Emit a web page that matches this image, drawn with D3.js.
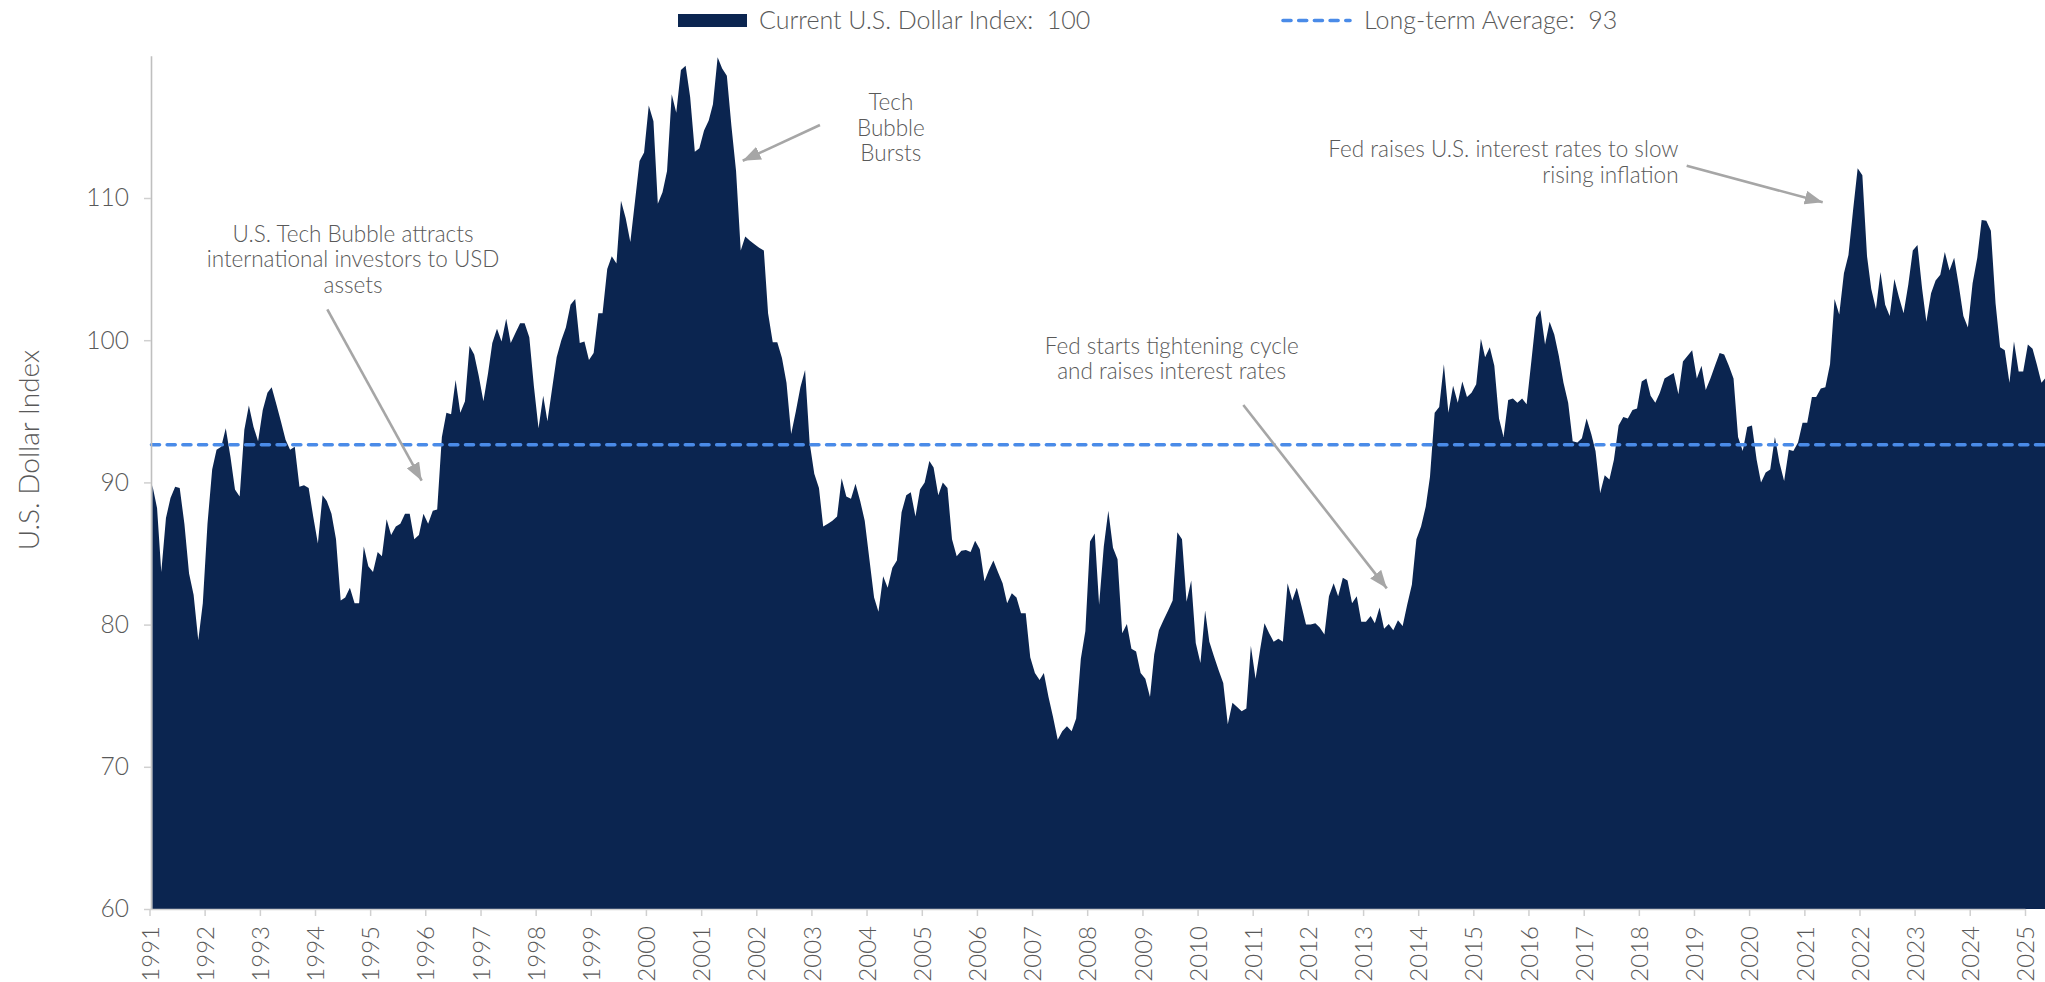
<!DOCTYPE html>
<html><head><meta charset="utf-8">
<script src="https://cdn.jsdelivr.net/npm/d3@7"></script>
<style>
html,body{margin:0;padding:0;background:#fff;}
svg{display:block;}
text{font-family:Lato,"Noto Sans",sans-serif;fill:#595959;font-weight:300;}
</style></head><body>
<svg id="chart" width="2045" height="982"></svg>
<script>
// ---------- DATA ----------
const startYear = 1991;           // first observation: January 1991, monthly
const usdIndex = [
  89.8, 88.2, 83.7, 87.5, 88.9, 89.7, 89.6, 87.1, 83.6, 82.1, 78.9, 81.5,      // 1991
  87.1, 90.9, 92.3, 92.5, 93.8, 91.8, 89.5, 89.0, 93.7, 95.4, 93.9, 92.9,      // 1992
  95.1, 96.3, 96.7, 95.5, 94.3, 93.0, 92.3, 92.5, 89.7, 89.8, 89.6, 87.6,      // 1993
  85.7, 89.1, 88.7, 87.8, 86.0, 81.7, 81.9, 82.6, 81.5, 81.5, 85.5, 84.1,      // 1994
  83.7, 85.1, 84.8, 87.4, 86.3, 86.9, 87.1, 87.8, 87.8, 86.0, 86.3, 87.8,      // 1995
  87.1, 88.0, 88.1, 93.2, 94.9, 94.8, 97.2, 94.9, 95.7, 99.6, 99.0, 97.5,      // 1996
  95.7, 97.7, 99.8, 100.8, 99.9, 101.5, 99.8, 100.5, 101.2, 101.2, 100.2, 96.8,// 1997
  93.8, 96.1, 94.3, 96.6, 98.8, 100.0, 100.9, 102.5, 102.9, 99.8, 99.9, 98.6,  // 1998
  99.1, 101.9, 101.9, 105.0, 105.9, 105.4, 109.8, 108.6, 106.9, 109.7, 112.6, 113.2, // 1999
  116.5, 115.4, 109.6, 110.4, 111.9, 117.3, 116.0, 119.0, 119.3, 117.1, 113.25, 113.5, // 2000
  114.75, 115.45, 116.6, 119.9, 119.1, 118.6, 115.1, 111.9, 106.3, 107.3, 107.0, 106.75, // 2001
  106.5, 106.3, 101.9, 99.85, 99.85, 98.75, 97.0, 93.4, 95.0, 96.7, 97.9, 92.8, // 2002
  90.6, 89.6, 86.9, 87.1, 87.3, 87.6, 90.3, 89.0, 88.85, 89.9, 88.7, 87.3,     // 2003
  84.6, 81.9, 80.9, 83.4, 82.6, 84.0, 84.5, 87.9, 89.1, 89.3, 87.6, 89.5,      // 2004
  90.0, 91.5, 91.05, 89.1, 90.0, 89.6, 86.0, 84.8, 85.2, 85.25, 85.1, 85.9,    // 2005
  85.3, 83.05, 83.8, 84.5, 83.7, 82.9, 81.5, 82.2, 81.9, 80.8, 80.8, 77.7,     // 2006
  76.6, 76.1, 76.6, 74.9, 73.5, 71.9, 72.5, 72.85, 72.5, 73.4, 77.6, 79.55,    // 2007
  85.85, 86.4, 81.4, 85.5, 88.0, 85.4, 84.6, 79.4, 80.05, 78.3, 78.1, 76.6,    // 2008
  76.2, 74.9, 77.9, 79.6, 80.3, 81.0, 81.7, 86.5, 86.0, 81.6, 83.1, 78.7,      // 2009
  77.3, 81.0, 78.8, 77.75, 76.8, 75.9, 73.0, 74.5, 74.2, 73.9, 74.1, 78.5,     // 2010
  76.2, 78.3, 80.1, 79.4, 78.8, 79.0, 78.8, 82.9, 81.7, 82.6, 81.3, 80.0,      // 2011
  80.0, 80.1, 79.8, 79.3, 82.0, 82.9, 82.0, 83.3, 83.1, 81.5, 82.0, 80.2,      // 2012
  80.2, 80.6, 80.1, 81.2, 79.7, 80.05, 79.6, 80.3, 79.9, 81.4, 82.8, 86.0,     // 2013
  86.9, 88.3, 90.4, 94.9, 95.3, 98.3, 94.9, 96.8, 95.6, 97.1, 96.0, 96.3,      // 2014
  96.9, 100.1, 98.8, 99.5, 98.2, 94.5, 93.2, 95.8, 95.9, 95.6, 95.9, 95.5,     // 2015
  98.5, 101.6, 102.1, 99.7, 101.3, 100.4, 98.9, 97.0, 95.6, 92.9, 92.8, 93.1,  // 2016
  94.5, 93.4, 92.2, 89.25, 90.5, 90.2, 91.6, 94.0, 94.6, 94.5, 95.1, 95.2,     // 2017
  97.1, 97.3, 96.1, 95.6, 96.3, 97.3, 97.5, 97.7, 96.2, 98.5, 98.9, 99.3,      // 2018
  97.3, 98.2, 96.5, 97.3, 98.2, 99.1, 99.0, 98.2, 97.3, 93.2, 92.2, 93.9,      // 2019
  94.0, 91.6, 90.0, 90.7, 90.9, 93.2, 91.4, 90.1, 92.3, 92.2, 92.8, 94.2,      // 2020
  94.2, 96.0, 96.0, 96.6, 96.7, 98.3, 102.9, 101.8, 104.7, 106.0, 109.2, 112.1,// 2021
  111.6, 105.9, 103.6, 102.2, 104.8, 102.5, 101.7, 104.3, 103.0, 101.9, 103.9, 106.3, // 2022
  106.7, 103.6, 101.3, 103.3, 104.2, 104.6, 106.2, 104.9, 105.8, 103.9, 101.7, 100.9, // 2023
  104.0, 105.8, 108.45, 108.4, 107.7, 102.6, 99.5, 99.3, 97.0, 99.9, 97.8, 97.8, // 2024
  99.7, 99.4, 98.3, 97.0, 97.4                                                  // 2025
];
const longTermAverage = 92.65;
const currentValue = 100;
const yTicks = [60, 70, 80, 90, 100, 110];
const xTickYears = d3.range(1991, 2026);
const legendLabels = ["Current U.S. Dollar Index:  " + currentValue, "Long-term Average:  93"];
const yAxisTitle = "U.S. Dollar Index";
const annotations = [
  {lines: ["U.S. Tech Bubble attracts", "international investors to USD", "assets"], at: [1994.69, 106.91], anchor: "middle", from: [1994.223, 102.17], to: [1995.935, 90.12]},
  {lines: ["Tech", "Bubble", "Bursts"], at: [2004.44, 116.17], anchor: "middle", from: [2003.155, 115.13], to: [2001.754, 112.62]},
  {lines: ["Fed starts tightening cycle", "and raises interest rates"], at: [2009.53, 99.03], anchor: "middle", from: [2010.83, 95.44], to: [2013.43, 82.55]},
  {lines: ["Fed raises U.S. interest rates to slow", "rising inflation"], at: [2018.72, 112.86], anchor: "end", from: [2018.868, 112.27], to: [2021.333, 109.70]}
];

// ---------- CHART ----------
const svg = d3.select("#chart");
const navy = "#0b2550", avgBlue = "#4a8be8", axisGray = "#bfbfbf", arrowGray = "#a6a6a6";

const data = usdIndex.map((v, i) => ({date: new Date(startYear, i, 20), value: v}));
const yearDate = f => { const y0 = Math.floor(f); const a = new Date(y0, 0, 1), b = new Date(y0 + 1, 0, 1); return new Date(+a + (f - y0) * (b - a)); };

const x = d3.scaleTime().domain([new Date(1991, 0, 1), new Date(2025, 0, 1)]).range([149.5, 2025]);
const y = d3.scaleLinear().domain([60, 120]).range([909, 55.8]);

// area
svg.append("path")
  .datum(data)
  .attr("fill", navy)
  .attr("d", d3.area().x(d => x(d.date)).y0(y(60)).y1(d => y(d.value)));

// long-term average
svg.append("line")
  .attr("x1", x(new Date(1991, 0, 1)) + 2).attr("x2", 2045)
  .attr("y1", y(longTermAverage)).attr("y2", y(longTermAverage))
  .attr("stroke", avgBlue).attr("stroke-width", 3.6)
  .attr("stroke-dasharray", "8 7.7").attr("stroke-linecap", "round");

// y axis
const yAxis = svg.append("g").attr("transform", "translate(151,0)")
  .call(d3.axisLeft(y).tickValues(yTicks).tickSize(7).tickSizeOuter(0).tickPadding(15));
yAxis.select(".domain").attr("stroke", axisGray).attr("stroke-width", 1.6);
yAxis.selectAll(".tick line").attr("stroke", "#d0d0d0").attr("stroke-width", 1.5);
yAxis.selectAll(".tick text").attr("font-size", 24.5).attr("fill", "#595959").style("font-family", "Lato").style("font-weight", 300);

// x axis
const xAxis = svg.append("g").attr("transform", `translate(0,${y(60)})`)
  .call(d3.axisBottom(x).tickValues(xTickYears.map(yr => new Date(yr, 0, 1))).tickFormat(d3.timeFormat("%Y")).tickSize(7).tickSizeOuter(0));
xAxis.select(".domain").attr("stroke", "#d0d0d0").attr("stroke-width", 1.5);
xAxis.selectAll(".tick line").attr("stroke", "#d0d0d0").attr("stroke-width", 1.5);
xAxis.selectAll(".tick text")
  .attr("font-size", 24).attr("fill", "#595959").style("font-family", "Lato").style("font-weight", 300)
  .attr("text-anchor", "end").attr("transform", "rotate(-90)")
  .attr("x", -17).attr("y", 0).attr("dy", "0.36em");

// y title
svg.append("text")
  .attr("transform", `translate(29,450) rotate(-90)`)
  .attr("text-anchor", "middle").attr("dy", "0.35em")
  .attr("font-size", 28).text(yAxisTitle);

// legend
const lg = svg.append("g");
lg.append("rect").attr("x", 678).attr("y", 14).attr("width", 69).attr("height", 13).attr("fill", navy);
lg.append("text").attr("x", 759).attr("y", 29).attr("font-size", 25).style("white-space", "pre").text(legendLabels[0]);
lg.append("line").attr("x1", 1283).attr("x2", 1350).attr("y1", 20.5).attr("y2", 20.5)
  .attr("stroke", avgBlue).attr("stroke-width", 3.6).attr("stroke-dasharray", "8 7.7").attr("stroke-linecap", "round");
lg.append("text").attr("x", 1364).attr("y", 29).attr("font-size", 25).style("white-space", "pre").text(legendLabels[1]);

// arrow marker
svg.append("defs").append("marker")
  .attr("id", "arrow").attr("viewBox", "0 0 18 14").attr("refX", 18).attr("refY", 7)
  .attr("markerWidth", 18).attr("markerHeight", 14).attr("markerUnits", "userSpaceOnUse")
  .attr("orient", "auto")
  .append("path").attr("d", "M0,0 L18,7 L0,14 Z").attr("fill", arrowGray);

// annotations
annotations.forEach(a => {
  const t = svg.append("text")
    .attr("x", x(yearDate(a.at[0]))).attr("y", y(a.at[1]))
    .attr("text-anchor", a.anchor).attr("font-size", 22.5).attr("fill", "#595959");
  a.lines.forEach((ln, i) => t.append("tspan").attr("x", x(yearDate(a.at[0]))).attr("dy", i === 0 ? 0 : 25.5).text(ln));
  svg.append("line")
    .attr("x1", x(yearDate(a.from[0]))).attr("y1", y(a.from[1]))
    .attr("x2", x(yearDate(a.to[0]))).attr("y2", y(a.to[1]))
    .attr("stroke", arrowGray).attr("stroke-width", 2.6)
    .attr("marker-end", "url(#arrow)");
});
</script>
</body></html>
